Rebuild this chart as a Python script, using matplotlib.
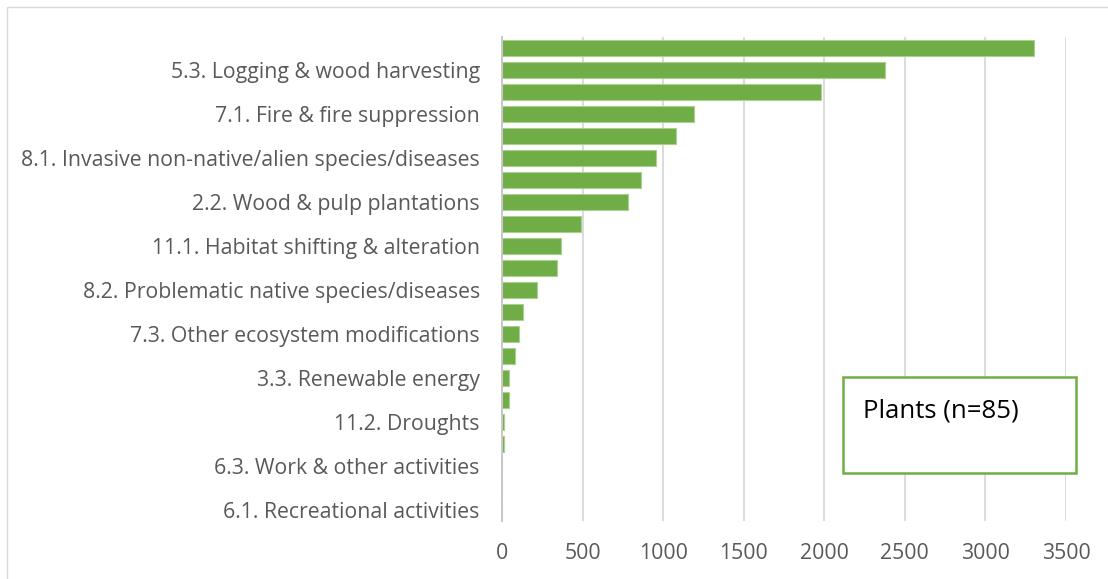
import matplotlib
matplotlib.use("Agg")
import matplotlib.pyplot as plt
from matplotlib.patches import Rectangle

# --- data (top bar first); Excel skipped every other category label ---
categories = [
    "", "5.3. Logging & wood harvesting",
    "", "7.1. Fire & fire suppression",
    "", "8.1. Invasive non-native/alien species/diseases",
    "", "2.2. Wood & pulp plantations",
    "", "11.1. Habitat shifting & alteration",
    "", "8.2. Problematic native species/diseases",
    "", "7.3. Other ecosystem modifications",
    "", "3.3. Renewable energy",
    "", "11.2. Droughts",
    "", "6.3. Work & other activities",
    "", "6.1. Recreational activities",
]
values = [3300, 2376, 1981, 1191, 1082, 958, 865, 782, 492, 369, 344,
          217, 129, 108, 83, 42, 42, 15, 10, 0, 0, 0]
xticks = [0, 500, 1000, 1500, 2000, 2500, 3000, 3500]
box_text = "Plants (n=85)"

C_BAR = "#70ad47"
C_EDGE = "#a9d08e"
C_GRID = "#d9d9d9"
C_TEXT = "#595959"

W, H = 1108, 579
fig = plt.figure(figsize=(W / 100, H / 100), dpi=100)
fig.patch.set_facecolor("white")

# outer chart-area border (cropped on the right and bottom)
fig.patches.append(Rectangle((6.5 / W, -0.05), 1.1, 1 - 7 / H + 0.05,
                             transform=fig.transFigure, fill=False,
                             edgecolor=C_GRID, linewidth=1.0))

ax = fig.add_axes([502 / W, 1 - 521 / H, (1066 - 502) / W, (521 - 37) / H])
ypos = list(range(len(values)))
ax.barh(ypos, values, height=0.75, color=C_BAR, edgecolor=C_EDGE,
        linewidth=0.8, zorder=3)

ax.set_xlim(0, 3500)
ax.set_ylim(len(values) - 0.5, -0.5)
ax.set_xticks(xticks)
ax.set_xticklabels([str(t) for t in xticks])
ax.set_yticks(ypos)
ax.set_yticklabels(categories)
ax.grid(axis="x", color=C_GRID, linewidth=1.3, zorder=0)
ax.tick_params(axis="both", length=0, colors=C_TEXT, labelsize=15.3)
ax.tick_params(axis="y", pad=16)
ax.tick_params(axis="x", pad=16)
for lbl in ax.get_xticklabels() + ax.get_yticklabels():
    lbl.set_family("Open Sans")
for s in ["top", "right", "bottom"]:
    ax.spines[s].set_visible(False)
ax.spines["left"].set_color("#c8c8c8")
ax.spines["left"].set_linewidth(1.4)
ax.spines["left"].set_zorder(4)

# text box
fig.patches.append(Rectangle((843 / W, 1 - 473 / H), (1076 - 843) / W, (473 - 377) / H,
                             transform=fig.transFigure, facecolor="white",
                             edgecolor=C_BAR, linewidth=1.8, zorder=5))
fig.text(863 / W, 1 - 411 / H, box_text, ha="left", va="center",
         fontsize=18.5, color="black", family="Open Sans", zorder=6)

fig.savefig("out.png", dpi=100, facecolor="white")
